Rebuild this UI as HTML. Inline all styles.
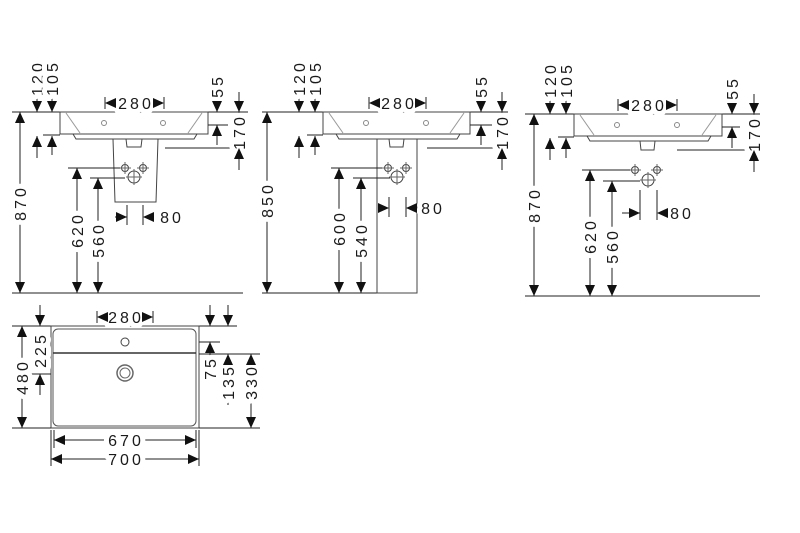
<!DOCTYPE html>
<html><head><meta charset="utf-8"><style>
html,body{margin:0;padding:0;background:#fff;}
svg{display:block}
text{font-family:"Liberation Sans",sans-serif;font-size:16px;fill:#1a1a1a;letter-spacing:3px;text-anchor:middle;stroke:#fff;stroke-width:10px;paint-order:stroke;stroke-linejoin:round}
</style></head><body>
<svg width="800" height="533" viewBox="0 0 800 533" xmlns="http://www.w3.org/2000/svg">
<defs>
<polygon id="ad" points="0,0 -5,-11 5,-11" fill="#111"/>
<polygon id="au" points="0,0 -5,11 5,11" fill="#111"/>
<polygon id="ar" points="0,0 -11,-5 -11,5" fill="#111"/>
<polygon id="al" points="0,0 11,-5 11,5" fill="#111"/>
</defs>
<g stroke="#222" stroke-width="1" fill="none">
<line x1="12" y1="112" x2="60" y2="112"/><line x1="208" y1="112" x2="248" y2="112"/>
<line x1="12" y1="293" x2="243" y2="293"/>
<rect x="60" y="112" width="148" height="22" stroke="#444"/>
<line x1="66" y1="113" x2="80" y2="133" stroke="#999"/><line x1="202" y1="113" x2="188" y2="133" stroke="#999"/>
<path d="M73 134 L76 139 L194 139 L197 134" stroke="#444"/>
<line x1="43" y1="135" x2="60" y2="135"/>
<path d="M113 139 L158 139 L156 202 L115 202 Z" stroke="#444"/>
<path d="M126 139 L127 147 L141 147 L142 139" stroke="#444"/>
<circle cx="104" cy="123" r="2.5" stroke="#888"/><circle cx="163" cy="123" r="2.5" stroke="#888"/>
<circle cx="125" cy="168" r="3.5" stroke="#444"/><circle cx="143" cy="168" r="3.5" stroke="#444"/><circle cx="134" cy="177" r="6" stroke="#444"/>
<path d="M125 162v12M119 168h12M143 162v12M137 168h12M134 169v16M126 177h16" stroke="#666"/>
<line x1="20" y1="112" x2="20" y2="293"/>
<line x1="37" y1="86" x2="37" y2="112"/><line x1="52" y1="86" x2="52" y2="112"/>
<line x1="37" y1="136" x2="37" y2="158"/><line x1="52" y1="136" x2="52" y2="155"/>
<line x1="105" y1="97" x2="105" y2="109"/><line x1="164" y1="97" x2="164" y2="109"/>
<line x1="217" y1="88" x2="217" y2="112"/><line x1="239" y1="92" x2="239" y2="112"/>
<line x1="208" y1="125" x2="228" y2="125"/><line x1="217" y1="125" x2="217" y2="145"/>
<line x1="165" y1="148" x2="248" y2="148"/><line x1="239" y1="112" x2="239" y2="170"/>
<line x1="68" y1="168" x2="120" y2="168"/><line x1="90" y1="178" x2="125" y2="178"/>
<line x1="77" y1="168" x2="77" y2="293"/>
<line x1="98" y1="178" x2="98" y2="293"/>
<line x1="127" y1="205" x2="127" y2="225"/><line x1="143" y1="205" x2="143" y2="225"/>
<line x1="115" y1="217" x2="127" y2="217"/>
<line x1="262" y1="112" x2="323" y2="112"/><line x1="470" y1="112" x2="508" y2="112"/>
<line x1="262" y1="293" x2="377" y2="293"/>
<rect x="323" y="112" width="147" height="22" stroke="#444"/>
<line x1="329" y1="113" x2="343" y2="133" stroke="#999"/><line x1="464" y1="113" x2="450" y2="133" stroke="#999"/>
<path d="M336 134 L339 139 L457 139 L460 134" stroke="#444"/>
<line x1="307" y1="135" x2="323" y2="135"/>
<rect x="377" y="139" width="40" height="154" stroke="#444"/>
<path d="M389 139 L390 147 L403 147 L404 139" stroke="#444"/>
<circle cx="366" cy="123" r="2.5" stroke="#888"/><circle cx="426" cy="123" r="2.5" stroke="#888"/>
<circle cx="388" cy="168" r="3.5" stroke="#444"/><circle cx="406" cy="168" r="3.5" stroke="#444"/><circle cx="397" cy="177" r="6" stroke="#444"/>
<path d="M388 162v12M382 168h12M406 162v12M400 168h12M397 169v16M389 177h16" stroke="#666"/>
<line x1="267" y1="112" x2="267" y2="293"/>
<line x1="299" y1="86" x2="299" y2="112"/><line x1="315" y1="86" x2="315" y2="112"/>
<line x1="299" y1="136" x2="299" y2="158"/><line x1="315" y1="136" x2="315" y2="155"/>
<line x1="369" y1="97" x2="369" y2="109"/><line x1="426" y1="97" x2="426" y2="109"/>
<line x1="481" y1="88" x2="481" y2="112"/><line x1="502" y1="92" x2="502" y2="112"/>
<line x1="470" y1="125" x2="492" y2="125"/><line x1="481" y1="125" x2="481" y2="145"/>
<line x1="427" y1="148" x2="510" y2="148"/><line x1="502" y1="112" x2="502" y2="170"/>
<line x1="331" y1="168" x2="382" y2="168"/><line x1="353" y1="178" x2="390" y2="178"/>
<line x1="339" y1="168" x2="339" y2="293"/>
<line x1="361" y1="178" x2="361" y2="293"/>
<line x1="389" y1="197" x2="389" y2="217"/><line x1="406" y1="197" x2="406" y2="217"/>
<line x1="525" y1="114" x2="574" y2="114"/><line x1="722" y1="114" x2="760" y2="114"/>
<line x1="525" y1="296" x2="760" y2="296"/>
<rect x="574" y="114" width="148" height="22" stroke="#444"/>
<line x1="580" y1="115" x2="594" y2="135" stroke="#999"/><line x1="716" y1="115" x2="702" y2="135" stroke="#999"/>
<path d="M587 136 L590 141 L708 141 L711 136" stroke="#444"/>
<line x1="558" y1="137" x2="574" y2="137"/>
<path d="M640 141 L641 150 L654 150 L655 141" stroke="#444"/>
<circle cx="617" cy="125" r="2.5" stroke="#888"/><circle cx="677" cy="125" r="2.5" stroke="#888"/>
<circle cx="635" cy="170" r="3.5" stroke="#444"/><circle cx="657" cy="170" r="3.5" stroke="#444"/><circle cx="648" cy="180" r="6" stroke="#444"/>
<path d="M635 164v12M629 170h12M657 164v12M651 170h12M648 172v16M640 180h16" stroke="#666"/>
<line x1="534" y1="114" x2="534" y2="296"/>
<line x1="550" y1="88" x2="550" y2="114"/><line x1="566" y1="88" x2="566" y2="114"/>
<line x1="550" y1="138" x2="550" y2="160"/><line x1="566" y1="138" x2="566" y2="158"/>
<line x1="618" y1="99" x2="618" y2="111"/><line x1="677" y1="99" x2="677" y2="111"/>
<line x1="732" y1="90" x2="732" y2="114"/><line x1="754" y1="94" x2="754" y2="114"/>
<line x1="722" y1="127" x2="740" y2="127"/><line x1="732" y1="127" x2="732" y2="148"/>
<line x1="677" y1="150" x2="762" y2="150"/><line x1="754" y1="114" x2="754" y2="172"/>
<line x1="582" y1="170" x2="630" y2="170"/><line x1="603" y1="181" x2="640" y2="181"/>
<line x1="590" y1="170" x2="590" y2="296"/>
<line x1="612" y1="181" x2="612" y2="296"/>
<line x1="640" y1="190" x2="640" y2="220"/><line x1="657" y1="190" x2="657" y2="220"/>
<line x1="622" y1="213" x2="640" y2="213"/>
<line x1="12" y1="326" x2="51" y2="326"/><line x1="199" y1="326" x2="237" y2="326"/>
<rect x="51" y="326" width="148" height="102" stroke="#444"/>
<rect x="53" y="329" width="143" height="97" rx="5" stroke="#555"/>
<line x1="53" y1="353" x2="196" y2="353" stroke="#333" stroke-width="1.5"/>
<circle cx="125" cy="342" r="4" stroke="#444"/>
<circle cx="125" cy="373" r="8" stroke="#666" stroke-width="1.5"/><circle cx="125" cy="373" r="5" stroke="#666"/>
<line x1="12" y1="428" x2="51" y2="428"/><line x1="199" y1="428" x2="260" y2="428"/>
<line x1="22" y1="326" x2="22" y2="428"/>
<line x1="40" y1="305" x2="40" y2="326"/><line x1="30" y1="374" x2="51" y2="374"/><line x1="40" y1="374" x2="40" y2="395"/>
<line x1="97" y1="311" x2="97" y2="323"/><line x1="153" y1="311" x2="153" y2="323"/>
<line x1="210" y1="305" x2="210" y2="326"/><line x1="228" y1="305" x2="228" y2="326"/>
<line x1="199" y1="342" x2="220" y2="342"/><line x1="210" y1="342" x2="210" y2="356"/>
<line x1="199" y1="354" x2="260" y2="354"/>
<line x1="228" y1="354" x2="228" y2="405"/><line x1="251" y1="354" x2="251" y2="428"/>
<line x1="54" y1="430" x2="54" y2="448"/><line x1="196" y1="430" x2="196" y2="448"/>
<line x1="51" y1="430" x2="51" y2="466"/><line x1="199" y1="430" x2="199" y2="466"/>
<line x1="54" y1="440" x2="196" y2="440"/>
<line x1="51" y1="459" x2="199" y2="459"/>
</g>
<g>
<text x="136" y="109">280</text>
<text x="172" y="223">80</text>
<text transform="translate(43,78) rotate(-90)">120</text>
<text transform="translate(58,78) rotate(-90)">105</text>
<text transform="translate(223,86) rotate(-90)">55</text>
<text transform="translate(245,132) rotate(-90)">170</text>
<text transform="translate(26,203) rotate(-90)">870</text>
<text transform="translate(83,230) rotate(-90)">620</text>
<text transform="translate(104,240) rotate(-90)">560</text>
<text x="399" y="109">280</text>
<text x="433" y="214">80</text>
<text transform="translate(305,78) rotate(-90)">120</text>
<text transform="translate(321,78) rotate(-90)">105</text>
<text transform="translate(487,86) rotate(-90)">55</text>
<text transform="translate(508,132) rotate(-90)">170</text>
<text transform="translate(273,200) rotate(-90)">850</text>
<text transform="translate(345,228) rotate(-90)">600</text>
<text transform="translate(367,240) rotate(-90)">540</text>
<text x="649" y="111">280</text>
<text x="682" y="219">80</text>
<text transform="translate(556,80) rotate(-90)">120</text>
<text transform="translate(572,80) rotate(-90)">105</text>
<text transform="translate(738,88) rotate(-90)">55</text>
<text transform="translate(760,134) rotate(-90)">170</text>
<text transform="translate(540,205) rotate(-90)">870</text>
<text transform="translate(596,236) rotate(-90)">620</text>
<text transform="translate(618,246) rotate(-90)">560</text>
<text x="126" y="323">280</text>
<text x="126" y="446">670</text>
<text x="126" y="465">700</text>
<text transform="translate(28,377) rotate(-90)">480</text>
<text transform="translate(46,350) rotate(-90)">225</text>
<text transform="translate(216,368) rotate(-90)">75</text>
<text transform="translate(234,382) rotate(-90)">135</text>
<text transform="translate(257,382) rotate(-90)">330</text>
</g>
<g>
<use href="#au" x="20" y="112"/><use href="#ad" x="20" y="293"/>
<use href="#ad" x="37" y="112"/><use href="#ad" x="52" y="112"/>
<use href="#au" x="37" y="136"/><use href="#au" x="52" y="136"/>
<use href="#al" x="105" y="103"/><use href="#ar" x="164" y="103"/>
<use href="#ad" x="217" y="112"/><use href="#ad" x="239" y="112"/>
<use href="#au" x="217" y="125"/><use href="#au" x="239" y="148"/>
<use href="#au" x="77" y="168"/><use href="#ad" x="77" y="293"/>
<use href="#au" x="98" y="178"/><use href="#ad" x="98" y="293"/>
<use href="#ar" x="127" y="217"/><use href="#al" x="143" y="217"/>
<use href="#au" x="267" y="112"/><use href="#ad" x="267" y="293"/>
<use href="#ad" x="299" y="112"/><use href="#ad" x="315" y="112"/>
<use href="#au" x="299" y="136"/><use href="#au" x="315" y="136"/>
<use href="#al" x="369" y="103"/><use href="#ar" x="426" y="103"/>
<use href="#ad" x="481" y="112"/><use href="#ad" x="502" y="112"/>
<use href="#au" x="481" y="125"/><use href="#au" x="502" y="148"/>
<use href="#au" x="339" y="168"/><use href="#ad" x="339" y="293"/>
<use href="#au" x="361" y="178"/><use href="#ad" x="361" y="293"/>
<use href="#ar" x="389" y="208"/><use href="#al" x="406" y="208"/>
<use href="#au" x="534" y="114"/><use href="#ad" x="534" y="296"/>
<use href="#ad" x="550" y="114"/><use href="#ad" x="566" y="114"/>
<use href="#au" x="550" y="138"/><use href="#au" x="566" y="138"/>
<use href="#al" x="618" y="105"/><use href="#ar" x="677" y="105"/>
<use href="#ad" x="732" y="114"/><use href="#ad" x="754" y="114"/>
<use href="#au" x="732" y="127"/><use href="#au" x="754" y="150"/>
<use href="#au" x="590" y="170"/><use href="#ad" x="590" y="296"/>
<use href="#au" x="612" y="181"/><use href="#ad" x="612" y="296"/>
<use href="#ar" x="640" y="213"/><use href="#al" x="657" y="213"/>
<use href="#au" x="22" y="326"/><use href="#ad" x="22" y="428"/>
<use href="#ad" x="40" y="326"/><use href="#au" x="40" y="374"/>
<use href="#al" x="97" y="317"/><use href="#ar" x="153" y="317"/>
<use href="#ad" x="210" y="326"/><use href="#ad" x="228" y="326"/>
<use href="#au" x="210" y="342"/><use href="#au" x="228" y="354"/>
<use href="#au" x="251" y="354"/><use href="#ad" x="251" y="428"/>
<use href="#al" x="54" y="440"/><use href="#ar" x="196" y="440"/>
<use href="#al" x="51" y="459"/><use href="#ar" x="199" y="459"/>
</g>
</svg>
</body></html>
